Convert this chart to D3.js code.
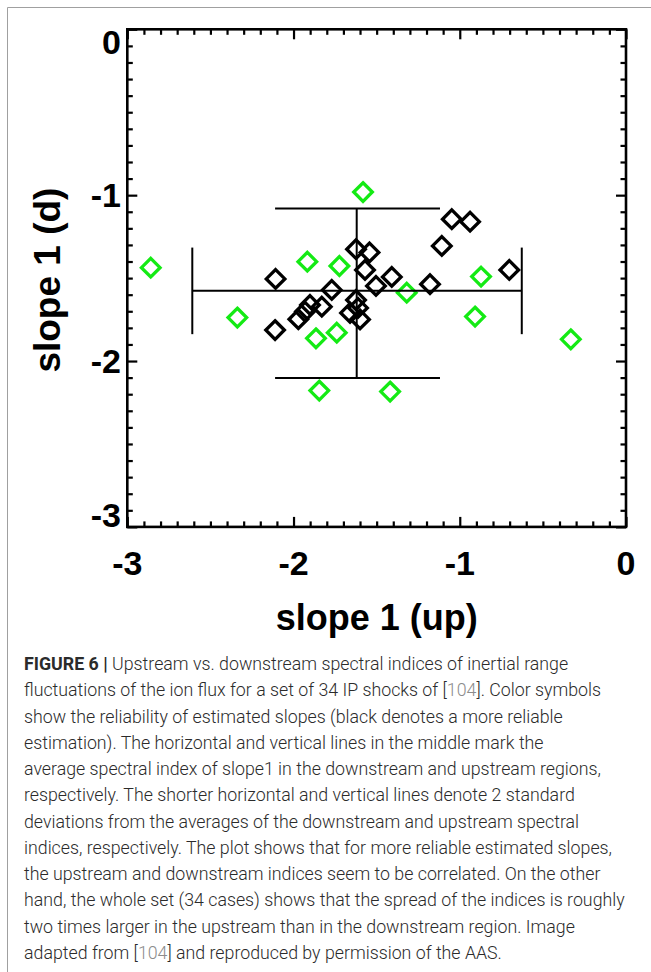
<!DOCTYPE html>
<html>
<head>
<meta charset="utf-8">
<script src="https://cdn.jsdelivr.net/npm/d3@7"></script>
<style>
  html, body { margin: 0; padding: 0; background: #fff; }
  svg { display: block; }
</style>
</head>
<body>
<svg id="chart" width="651" height="972"></svg>
<script>
// ---------------- data ----------------
const blackUp   = [-2.108, -2.111, -1.971, -1.931, -1.901, -1.830, -1.770, -1.624, -1.543, -1.570, -1.504, -1.409, -1.624, -1.612, -1.660, -1.600, -1.048, -0.938, -1.108, -0.702, -1.179];
const blackDown = [-1.505, -1.813, -1.748, -1.702, -1.662, -1.672, -1.571, -1.326, -1.345, -1.451, -1.547, -1.493, -1.632, -1.680, -1.710, -1.749, -1.145, -1.160, -1.306, -1.451, -1.537];
const greenUp   = [-2.859, -1.582, -1.917, -1.724, -2.338, -1.865, -1.740, -1.845, -1.419, -1.319, -0.872, -0.908, -0.332];
const greenDown = [-1.437, -0.981, -1.401, -1.427, -1.738, -1.863, -1.829, -2.178, -2.184, -1.588, -1.491, -1.732, -1.869];

const meanUp = -1.620;           // vertical line position (x)
const meanDown = -1.576;         // horizontal line position (y)
const upRange = [-2.609, -0.627];      // horizontal line extent (x)
const upCapRange = [-1.838, -1.316];   // vertical caps at its ends (y)
const downRange = [-2.102, -1.080];    // vertical line extent (y)
const downCapRange = [-2.111, -1.119]; // horizontal caps at its ends (x)

const xTicks = [-3, -2, -1, 0];
const yTicks = [0, -1, -2, -3];
const xTickLabels = ["-3", "-2", "-1", "0"];
const yTickLabels = ["0", "-1", "-2", "-3"];
const xTitle = "slope 1 (up)";
const yTitle = "slope 1 (d)";

const captionLines = [
  [["b","FIGURE 6 | "],["n","Upstream vs. downstream spectral indices of inertial range"]],
  [["n","fluctuations of the ion flux for a set of 34 IP shocks of ["],["g","104"],["n","]. Color symbols"]],
  [["n","show the reliability of estimated slopes (black denotes a more reliable"]],
  [["n","estimation). The horizontal and vertical lines in the middle mark the"]],
  [["n","average spectral index of slope1 in the downstream and upstream regions,"]],
  [["n","respectively. The shorter horizontal and vertical lines denote 2 standard"]],
  [["n","deviations from the averages of the downstream and upstream spectral"]],
  [["n","indices, respectively. The plot shows that for more reliable estimated slopes,"]],
  [["n","the upstream and downstream indices seem to be correlated. On the other"]],
  [["n","hand, the whole set (34 cases) shows that the spread of the indices is roughly"]],
  [["n","two times larger in the upstream than in the downstream region. Image"]],
  [["n","adapted from ["],["g","104"],["n","] and reproduced by permission of the AAS."]]
];

// ---------------- layout ----------------
const svg = d3.select("#chart");
const X0 = 127.3, X1 = 626, Y0 = 29.3, Y1 = 526.9;
const x = d3.scaleLinear().domain([-3, 0]).range([X0, X1]);
const y = d3.scaleLinear().domain([0, -3]).range([Y0, Y1]);
const axisFont = "'Liberation Sans', Arial, Helvetica, sans-serif";
const GREEN = "#14ea14";

// page border (top and left visible)
svg.append("line").attr("x1", 7.5).attr("y1", 7.5).attr("x2", 651).attr("y2", 7.5)
  .attr("stroke", "#a0a0a0").attr("stroke-width", 1);
svg.append("line").attr("x1", 7.5).attr("y1", 7.5).attr("x2", 7.5).attr("y2", 972)
  .attr("stroke", "#a0a0a0").attr("stroke-width", 1);

// minor tick values
const minorX = d3.range(-30, 1).map(d => d / 10).filter(d => !xTicks.some(t => Math.abs(t - d) < 1e-9));
const minorY = d3.range(-30, 1).map(d => d / 10).filter(d => !yTicks.some(t => Math.abs(t - d) < 1e-9));

function tickAxis(axisFn, scale, vals, size, transform) {
  const g = svg.append("g").attr("transform", transform)
    .call(axisFn(scale).tickValues(vals).tickSize(size).tickFormat(""));
  g.select(".domain").remove();
  g.selectAll(".tick line").attr("stroke", "#000").attr("stroke-width", 2.2);
}
// bottom (ticks inward = up)
tickAxis(d3.axisBottom, x, xTicks, -10, `translate(0,${Y1})`);
tickAxis(d3.axisBottom, x, minorX, -5.5, `translate(0,${Y1})`);
// top (inward = down)
tickAxis(d3.axisTop, x, xTicks, -10, `translate(0,${Y0})`);
tickAxis(d3.axisTop, x, minorX, -5.5, `translate(0,${Y0})`);
// left (inward = right)
tickAxis(d3.axisLeft, y, yTicks, -10, `translate(${X0},0)`);
tickAxis(d3.axisLeft, y, minorY, -5.5, `translate(${X0},0)`);
// right (inward = left)
tickAxis(d3.axisRight, y, yTicks, -10, `translate(${X1},0)`);
tickAxis(d3.axisRight, y, minorY, -5.5, `translate(${X1},0)`);

// frame
svg.append("rect").attr("x", X0).attr("y", Y0).attr("width", X1 - X0).attr("height", Y1 - Y0)
  .attr("fill", "none").attr("stroke", "#000").attr("stroke-width", 2.6);

// tick labels
svg.append("g").selectAll("text").data(xTicks).join("text")
  .attr("x", d => x(d)).attr("y", 575)
  .attr("text-anchor", "middle")
  .attr("font-family", axisFont).attr("font-weight", "bold").attr("font-size", 34)
  .text((d, i) => xTickLabels[i]);

svg.append("g").selectAll("text").data(yTicks).join("text")
  .attr("x", 121)
  .attr("y", d => Math.min(Math.max(y(d) + 12, Y0 + 24.5), Y1))
  .attr("text-anchor", "end")
  .attr("font-family", axisFont).attr("font-weight", "bold").attr("font-size", 34)
  .text((d, i) => yTickLabels[i]);

// axis titles
svg.append("text").attr("x", (X0 + X1) / 2).attr("y", 630)
  .attr("text-anchor", "middle")
  .attr("font-family", axisFont).attr("font-weight", "bold").attr("font-size", 36)
  .text(xTitle);
svg.append("text")
  .attr("transform", `translate(60,${(Y0 + Y1) / 2 + 2}) rotate(-90)`)
  .attr("text-anchor", "middle")
  .attr("font-family", axisFont).attr("font-weight", "bold").attr("font-size", 37)
  .text(yTitle);

// diamonds
const R = 9.3;
const diamond = `M0,${-R}L${R},0L0,${R}L${-R},0Z`;
const pts = svg.append("g");
pts.selectAll("path.blk").data(d3.zip(blackUp, blackDown)).join("path")
  .attr("class", "blk")
  .attr("d", diamond)
  .attr("transform", d => `translate(${x(d[0])},${y(d[1])})`)
  .attr("fill", "none").attr("stroke", "#000").attr("stroke-width", 3.3)
  .attr("stroke-linejoin", "miter");
pts.selectAll("path.grn").data(d3.zip(greenUp, greenDown)).join("path")
  .attr("class", "grn")
  .attr("d", diamond)
  .attr("transform", d => `translate(${x(d[0])},${y(d[1])})`)
  .attr("fill", "none").attr("stroke", GREEN).attr("stroke-width", 3.3)
  .attr("stroke-linejoin", "miter");

// mean lines and std bars
const bars = svg.append("g").attr("stroke", "#000").attr("stroke-width", 2);
bars.append("line").attr("x1", x(upRange[0])).attr("x2", x(upRange[1]))
  .attr("y1", y(meanDown)).attr("y2", y(meanDown));
upRange.forEach(v => bars.append("line").attr("x1", x(v)).attr("x2", x(v))
  .attr("y1", y(upCapRange[0])).attr("y2", y(upCapRange[1])));
bars.append("line").attr("x1", x(meanUp)).attr("x2", x(meanUp))
  .attr("y1", y(downRange[0])).attr("y2", y(downRange[1]));
downRange.forEach(v => bars.append("line").attr("x1", x(downCapRange[0])).attr("x2", x(downCapRange[1]))
  .attr("y1", y(v)).attr("y2", y(v)));

// caption
const capFont = "Roboto, 'Open Sans', Helvetica, Arial, sans-serif";
const cap = svg.append("g").attr("font-family", capFont).attr("fill", "#2b2b2b");
const capX = 24, capY0 = 670, capDY = 26.27;
let fs = 17;
const lines = cap.selectAll("text").data(captionLines).join("text")
  .attr("x", capX).attr("y", (d, i) => capY0 + i * capDY)
  .attr("font-size", fs).attr("font-weight", 300);
lines.selectAll("tspan").data(d => d).join("tspan")
  .attr("font-weight", d => d[0] === "b" ? 700 : 300)
  .attr("fill", d => d[0] === "g" ? "#8c8c8c" : "#2b2b2b")
  .text(d => d[1]);
// fit font size so the full-width line (line 10) spans to x=625
const ref = lines.nodes()[9];
const w = ref.getComputedTextLength();
fs = fs * (625 - capX) / w;
lines.attr("font-size", fs);
</script>
</body>
</html>
